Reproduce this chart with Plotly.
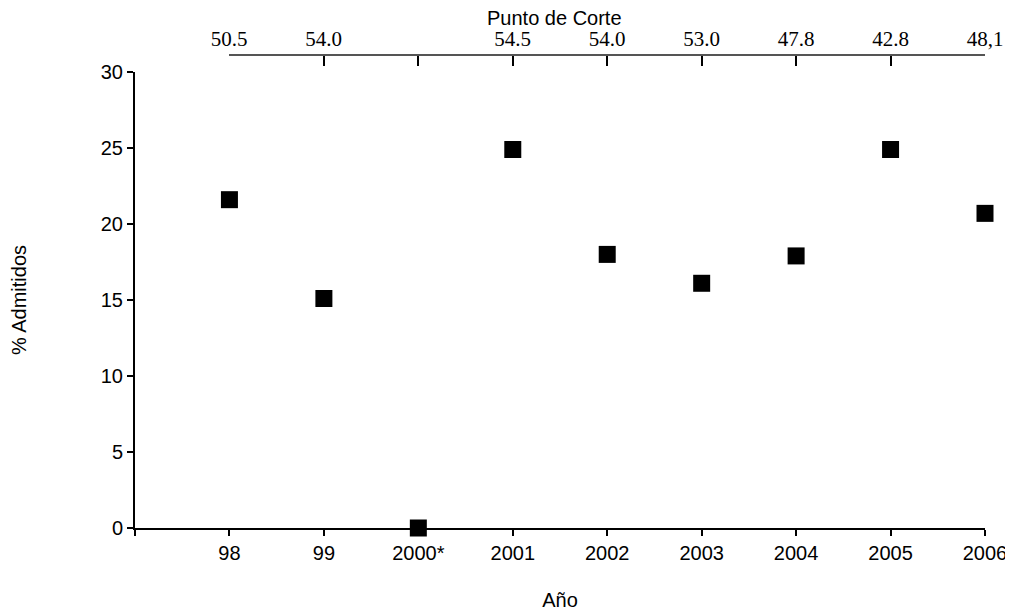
import plotly.graph_objects as go

years = ["98", "99", "2000*", "2001", "2002", "2003", "2004", "2005", "2006"]
admitidos = [21.6, 15.1, 0.0, 24.9, 18.0, 16.1, 17.9, 24.9, 20.7]
punto_corte = ["50.5", "54.0", "", "54.5", "54.0", "53.0", "47.8", "42.8", "48,1"]

pos = list(range(len(years)))

fig = go.Figure()
fig.add_trace(go.Scatter(
    x=pos, y=admitidos, mode="markers",
    marker=dict(symbol="square", size=17, color="black"),
    cliponaxis=False, showlegend=False, hoverinfo="skip",
))
# invisible trace to create the top "Punto de Corte" axis
fig.add_trace(go.Scatter(
    x=pos, y=admitidos, xaxis="x2", yaxis="y", mode="markers",
    marker=dict(size=1, opacity=0), showlegend=False, hoverinfo="skip",
))

arial = "Arial, Liberation Sans, sans-serif"
times = "Times New Roman, Liberation Serif, serif"

fig.update_layout(
    width=1013, height=614,
    margin=dict(l=127, r=36, t=47, b=94),
    paper_bgcolor="white", plot_bgcolor="rgba(0,0,0,0)",
    font=dict(family=arial, size=20, color="black"),
    xaxis=dict(
        range=[-1, 8], domain=[0, 1],
        tickvals=[-1] + pos, ticktext=[""] + years,
        showline=True, linecolor="black", linewidth=2,
        ticks="outside", ticklen=6, tickwidth=2, tickcolor="black",
        showgrid=False, zeroline=False, automargin=False,
        title=dict(text="Año", font=dict(size=20), standoff=30),
        tickfont=dict(size=20),
    ),
    xaxis2=dict(
        range=[0, 8], domain=[(229 - 135) / 850, 1],
        anchor="free", position=1, side="top",
        tickvals=pos, ticktext=punto_corte,
        showline=True, linecolor="#555555", linewidth=2,
        ticks="inside", ticklen=10, tickwidth=2, tickcolor="black",
        showgrid=False, zeroline=False, automargin=False,
        tickfont=dict(family=times, size=21),
    ),
    yaxis=dict(
        range=[0, 30], domain=[0, 456 / 473], tickvals=[0, 5, 10, 15, 20, 25, 30],
        showline=True, linecolor="black", linewidth=2,
        ticks="outside", ticklen=6, tickwidth=2, tickcolor="black",
        showgrid=False, zeroline=False, automargin=False,
        title=dict(text="% Admitidos", font=dict(size=20), standoff=70),
        tickfont=dict(size=20),
    ),
    annotations=[dict(
        text="Punto de Corte", xref="paper", yref="paper",
        x=0.493, y=(520 - 10) / 473, xanchor="center", yanchor="middle",
        showarrow=False, font=dict(family=arial, size=20, color="black"),
    )],
)

fig.write_html("out.html")
